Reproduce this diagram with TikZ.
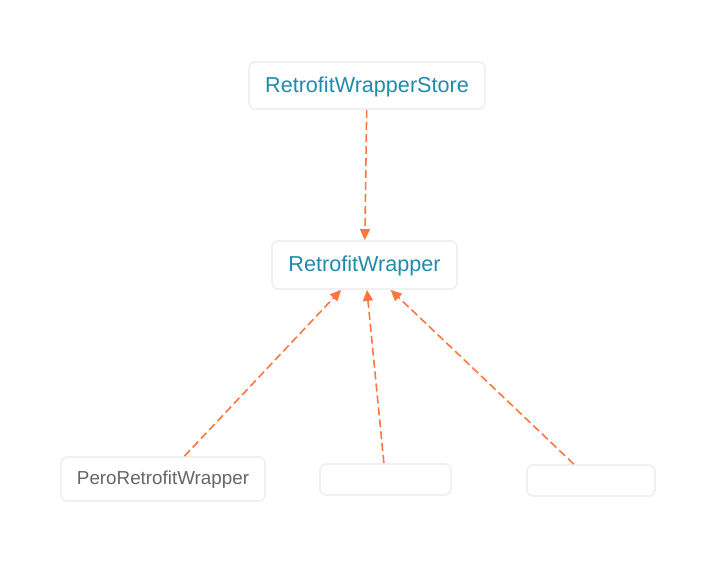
\documentclass[tikz,border=0pt]{standalone}
\usepackage{fontspec}
\setmainfont{Liberation Sans}
\usepackage{tikz}
\usetikzlibrary{arrows.meta}
\definecolor{BoxLine}{RGB}{240,240,240}
\definecolor{ClsText}{RGB}{32,140,172}
\definecolor{SubText}{RGB}{102,102,102}
\definecolor{DepLine}{RGB}{255,118,60}
\tikzset{
  nd_box/.style={rectangle,rounded corners=6pt,draw=BoxLine,line width=1.8pt,fill=white,inner sep=0pt,text depth=2pt},
  nd_cls/.style={nd_box,text=ClsText,font=\fontsize{21.6}{25}\selectfont},
  nd_sub/.style={nd_box,text=SubText,font=\fontsize{18.8}{22}\selectfont},
  arr/.style={-{Triangle[length=11pt,width=10pt]},draw=DepLine,line width=1.6pt,dash pattern=on 8pt off 4pt},
}
\begin{document}
\begin{tikzpicture}[x=1pt,y=-1pt]
\useasboundingbox (0,0) rectangle (716,562);
% classes
\node[nd_cls,minimum width=236pt,minimum height=47pt] at (367,85.5)(ST){RetrofitWrapperStore};
\node[nd_cls,minimum width=185pt,minimum height=48pt] at (364.5,265)(RW){RetrofitWrapper};
% implementations
\node[nd_sub,minimum width=204pt,minimum height=44pt] at (163,479)(PR){PeroRetrofitWrapper};
\node[nd_sub,minimum width=131pt,minimum height=31pt] at (385.5,479.5)(E1){};
\node[nd_sub,minimum width=128pt,minimum height=31pt] at (591,480.5)(E2){};
% arrows
\draw[arr](ST)--(RW);
\foreach \n in {PR,E1,E2}{\draw[arr](\n)--(RW);}
\end{tikzpicture}
\end{document}
